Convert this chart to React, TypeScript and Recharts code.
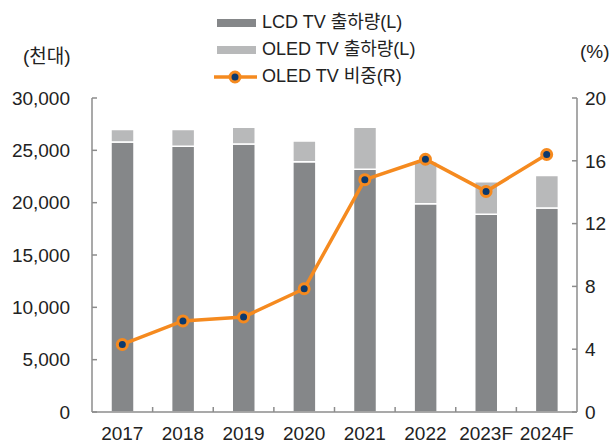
import React from 'react';
import { ComposedChart, Bar, Line, XAxis, YAxis } from 'recharts';

const years = ['2017', '2018', '2019', '2020', '2021', '2022', '2023F', '2024F'];
const lcdShipments = [25800, 25400, 25600, 23900, 23200, 19900, 18900, 19500];
const oledShipments = [1200, 1600, 1600, 2000, 4000, 4000, 3100, 3100];
const oledShare = [4.3, 5.8, 6.05, 7.85, 14.8, 16.1, 14.05, 16.4];
const leftTicks = [0, 5000, 10000, 15000, 20000, 25000, 30000];
const rightTicks = [0, 4, 8, 12, 16, 20];

const FONT = '"Liberation Sans", "Noto Sans CJK KR", sans-serif';
const AXIS = '#8c8c8c';
const LCD = '#858789';
const OLED = '#b8b9ba';
const ORANGE = '#f58a1f';
const NAVY = '#0c3a6e';

const data = years.map((year, i) => ({
    year,
    lcd: lcdShipments[i],
    oled: oledShipments[i],
    share: oledShare[i],
}));

const YearTick = (props: any) => {
    const { x, y, payload, index } = props;
    const half = payload && payload.offset > 0 ? payload.offset : 30.3;
    return (
        <g>
            <text x={x} y={y} dy="0.71em" textAnchor="middle" fill="#222" fontSize={19} fontFamily={FONT}>
                {payload.value}
            </text>
            {index < years.length - 1 && (
                <line x1={x + half} x2={x + half} y1={y - 15} y2={y - 20} stroke={AXIS} strokeWidth={1.5} />
            )}
        </g>
    );
};

const legendText: React.CSSProperties = {
    position: 'absolute',
    left: 262,
    fontSize: 18,
    color: '#222',
    lineHeight: '20px',
    whiteSpace: 'nowrap',
};

export default function App() {
    return (
        <div style={{ position: 'absolute', left: 0, top: 0, width: 616, height: 443, fontFamily: FONT, background: '#fff' }}>
            <ComposedChart width={616} height={443} data={data} margin={{ top: 98, right: 0, bottom: 0, left: 0 }}>
                <XAxis
                    dataKey="year"
                    height={31}
                    tickLine={false}
                    tickSize={0}
                    tickMargin={15}
                    axisLine={{ stroke: AXIS, strokeWidth: 1.5 }}
                    tick={<YearTick />}
                    interval={0}
                />
                <YAxis
                    yAxisId="left"
                    width={92}
                    domain={[0, 30000]}
                    ticks={leftTicks}
                    tickFormatter={(v: number) => v.toLocaleString('en-US')}
                    tickSize={-5}
                    tickMargin={27}
                    axisLine={{ stroke: AXIS, strokeWidth: 1.5 }}
                    tickLine={{ stroke: AXIS, strokeWidth: 1.5 }}
                    tick={{ fill: '#222', fontSize: 19, fontFamily: FONT }}
                />
                <YAxis
                    yAxisId="right"
                    orientation="right"
                    width={39}
                    domain={[0, 20]}
                    ticks={rightTicks}
                    tickSize={-5}
                    tickMargin={13}
                    axisLine={{ stroke: AXIS, strokeWidth: 1.5 }}
                    tickLine={{ stroke: AXIS, strokeWidth: 1.5 }}
                    tick={{ fill: '#222', fontSize: 19, fontFamily: FONT, textAnchor: 'start' }}
                />
                <Bar yAxisId="left" dataKey="lcd" stackId="a" fill={LCD} stroke="#fff" strokeWidth={1.5} barSize={23} isAnimationActive={false} />
                <Bar yAxisId="left" dataKey="oled" stackId="a" fill={OLED} stroke="#fff" strokeWidth={1.5} barSize={23} isAnimationActive={false} />
                <Line
                    yAxisId="right"
                    dataKey="share"
                    stroke={ORANGE}
                    strokeWidth={3.5}
                    dot={{ r: 5, fill: NAVY, stroke: ORANGE, strokeWidth: 3 }}
                    isAnimationActive={false}
                />
            </ComposedChart>

            <div style={{ position: 'absolute', left: 23, top: 41, fontSize: 19, color: '#222' }}>(천대)</div>
            <div style={{ position: 'absolute', left: 580, top: 41, fontSize: 19, color: '#222' }}>(%)</div>

            <div style={{ position: 'absolute', left: 217, top: 18.5, width: 39, height: 8, background: LCD }} />
            <div style={{ ...legendText, top: 12 }}>LCD TV 출하량(L)</div>
            <div style={{ position: 'absolute', left: 217, top: 45.5, width: 39, height: 8, background: OLED }} />
            <div style={{ ...legendText, top: 39 }}>OLED TV 출하량(L)</div>
            <svg style={{ position: 'absolute', left: 210, top: 66 }} width={50} height={22}>
                <line x1={4} x2={47} y1={11} y2={11} stroke={ORANGE} strokeWidth={3.5} />
                <circle cx={25} cy={11} r={5} fill={NAVY} stroke={ORANGE} strokeWidth={3} />
            </svg>
            <div style={{ ...legendText, top: 66 }}>OLED TV 비중(R)</div>
        </div>
    );
}
